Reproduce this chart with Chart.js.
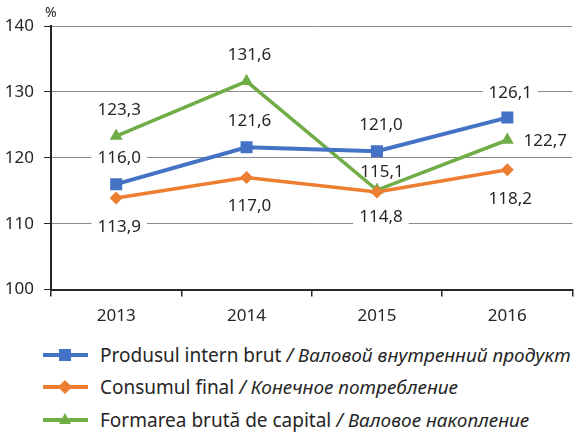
<!DOCTYPE html>
<html>
<head>
<meta charset="utf-8">
<script src="https://cdn.jsdelivr.net/npm/chart.js@4.4.1/dist/chart.umd.min.js"></script>
<style>
html, body { margin: 0; padding: 0; background: #fff; }
body { width: 581px; height: 433px; overflow: hidden; position: relative; font-family: "Noto Sans", sans-serif; color: #262626; }
#wrap { position: absolute; left: 0; top: 0; width: 581px; height: 335px; }
#unit { position: absolute; left: 45px; top: 2px; font-size: 14px; line-height: 20px; }
.row { position: absolute; left: 43px; height: 24px; width: 540px; white-space: nowrap; font-size: 19px; line-height: 24px; }
.row .line { position: absolute; left: 0; top: 10px; width: 45px; height: 4px; }
.row .mark { position: absolute; }
.row .txt { position: absolute; left: 57px; top: 0; }
.row i { font-style: italic; }
</style>
</head>
<body>
<div id="wrap"><canvas id="myChart"></canvas></div>
<div id="unit">%</div>
<div id="legend"></div>
<script>
const years = ['2013', '2014', '2015', '2016'];
const pib = [116.0, 121.6, 121.0, 126.1];
const consum = [113.9, 117.0, 114.8, 118.2];
const formare = [123.3, 131.6, 115.1, 122.7];
const yMin = 100, yMax = 140, yStep = 10;
const namesRo = ['Produsul intern brut', 'Consumul final', 'Formarea brută de capital'];
const namesRu = ['Валовой внутренний продукт', 'Конечное потребление', 'Валовое накопление'];

const colors = ['#4472C4', '#ED7D31', '#70AD47'];
// label offsets [dx, dy] from each point
const labelOffsets = [
  [[3, -26], [3, -26], [4, -26], [3, -24]],
  [[3, 29], [3, 29], [4, 25], [3, 29]],
  [[3, -26], [3, -26], [5, -18], [38, 1]]
];

const labelFont = '17px "Noto Sans"';

function fmt(v) {
  return v.toFixed(1).replace('.', ',');
}

function eachLabel(chart, cb) {
  chart.data.datasets.forEach(function (ds, i) {
    const meta = chart.getDatasetMeta(i);
    meta.data.forEach(function (pt, j) {
      const off = labelOffsets[i][j];
      cb(fmt(ds.data[j]), pt.x + off[0], pt.y + off[1]);
    });
  });
}

const dataLabels = {
  id: 'dataLabels',
  beforeDatasetsDraw(chart) {
    const ctx = chart.ctx;
    ctx.save();
    ctx.font = labelFont;
    ctx.fillStyle = '#fff';
    eachLabel(chart, function (text, x, y) {
      const w = ctx.measureText(text).width;
      ctx.fillRect(x - w / 2 - 6, y - 10, w + 12, 20);
    });
    ctx.restore();
  },
  afterDatasetsDraw(chart) {
    const ctx = chart.ctx;
    ctx.save();
    ctx.font = labelFont;
    ctx.fillStyle = '#262626';
    ctx.textAlign = 'center';
    ctx.textBaseline = 'middle';
    eachLabel(chart, function (text, x, y) {
      ctx.fillText(text, x, y);
    });
    ctx.restore();
  }
};

const ctx = document.getElementById('myChart').getContext('2d');
new Chart(ctx, {
  type: 'line',
  data: {
    labels: years,
    datasets: [{
      label: namesRo[0],
      data: pib,
      borderColor: colors[0],
      backgroundColor: colors[0],
      borderWidth: 4,
      pointStyle: 'rect',
      pointRadius: 8.5,
      pointBorderWidth: 0
    }, {
      label: namesRo[1],
      data: consum,
      borderColor: colors[1],
      backgroundColor: colors[1],
      borderWidth: 3.5,
      pointStyle: 'rectRot',
      pointRadius: 6.5,
      pointBorderWidth: 0
    }, {
      label: namesRo[2],
      data: formare,
      borderColor: colors[2],
      backgroundColor: colors[2],
      borderWidth: 3.5,
      pointStyle: 'triangle',
      pointRadius: 7.5,
      pointBorderWidth: 0
    }]
  },
  options: {
    responsive: true,
    maintainAspectRatio: false,
    animation: false,
    layout: {
      padding: { top: 26, right: 0, bottom: 0, left: 0 }
    },
    plugins: {
      legend: { display: false },
      tooltip: { enabled: false }
    },
    scales: {
      x: {
        offset: true,
        grid: {
          display: true,
          drawOnChartArea: false,
          offset: true,
          tickLength: 7,
          tickColor: '#262626',
          lineWidth: 1.5
        },
        border: { color: '#262626', width: 2 },
        ticks: {
          color: '#262626',
          font: { family: 'Noto Sans', size: 17 },
          padding: 9
        }
      },
      y: {
        min: yMin,
        max: yMax,
        afterFit: function (scale) { scale.width = 51; },
        ticks: {
          stepSize: yStep,
          color: '#262626',
          font: { family: 'Noto Sans', size: 17 },
          padding: 10
        },
        grid: {
          color: '#8c8c8c',
          lineWidth: 1,
          tickLength: 7,
          tickColor: '#262626'
        },
        border: { color: '#262626', width: 2 }
      }
    }
  },
  plugins: [dataLabels]
});

// legend with mixed roman / italic text
const legend = document.getElementById('legend');
const rowY = [343, 375, 408];
namesRo.forEach(function (name, i) {
  const row = document.createElement('div');
  row.className = 'row';
  row.style.top = rowY[i] + 'px';
  let mark;
  if (i === 0) {
    mark = '<div class="mark" style="left:16px;top:6px;width:12px;height:12px;background:' + colors[i] + '"></div>';
  } else if (i === 1) {
    mark = '<div class="mark" style="left:17px;top:7px;width:10px;height:10px;transform:rotate(45deg);background:' + colors[i] + '"></div>';
  } else {
    mark = '<div class="mark" style="left:16px;top:5px;width:0;height:0;border-left:6.5px solid transparent;border-right:6.5px solid transparent;border-bottom:11px solid ' + colors[i] + '"></div>';
  }
  row.innerHTML = '<div class="line" style="background:' + colors[i] + '"></div>' + mark +
    '<span class="txt">' + name + ' <i>/ ' + namesRu[i] + '</i></span>';
  legend.appendChild(row);
});
</script>
</body>
</html>
